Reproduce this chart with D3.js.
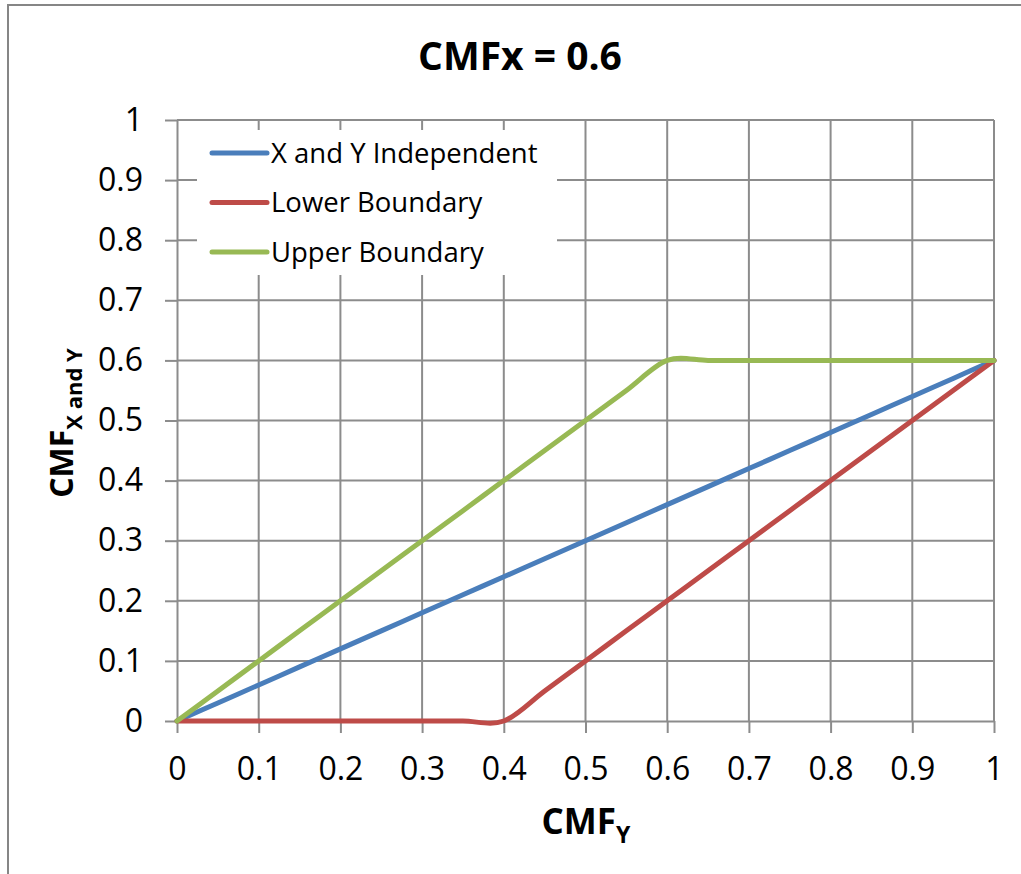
<!DOCTYPE html>
<html>
<head>
<meta charset="utf-8">
<script src="https://cdn.jsdelivr.net/npm/d3@7"></script>
<style>
	body { margin: 0; background: #fff; }
	svg text { font-family: "Open Sans", sans-serif; fill: #000; }
	.grid line { stroke: #8c8c8c; stroke-width: 2; }
	.axis path, .axis line { stroke: #8c8c8c; stroke-width: 2; }
</style>
</head>
<body>
<div id="chart"></div>
<script>
// data
const cmfY = [0, 0.05, 0.1, 0.15, 0.2, 0.25, 0.3, 0.35, 0.4, 0.45, 0.5,
	0.55, 0.6, 0.65, 0.7, 0.75, 0.8, 0.85, 0.9, 0.95, 1];
const independent = [0, 0.03, 0.06, 0.09, 0.12, 0.15, 0.18, 0.21, 0.24, 0.27, 0.3,
	0.33, 0.36, 0.39, 0.42, 0.45, 0.48, 0.51, 0.54, 0.57, 0.6];
const lower = [0, 0, 0, 0, 0, 0, 0, 0, 0, 0.05, 0.1,
	0.15, 0.2, 0.25, 0.3, 0.35, 0.4, 0.45, 0.5, 0.55, 0.6];
const upper = [0, 0.05, 0.1, 0.15, 0.2, 0.25, 0.3, 0.35, 0.4, 0.45, 0.5,
	0.55, 0.6, 0.6, 0.6, 0.6, 0.6, 0.6, 0.6, 0.6, 0.6];
const seriesNames  = ["X and Y Independent", "Lower Boundary", "Upper Boundary"];
const seriesColors = ["#4a7ebb", "#be4b48", "#98b954"];
const tickValues = [0, 0.1, 0.2, 0.3, 0.4, 0.5, 0.6, 0.7, 0.8, 0.9, 1];

const width  = 1021
	, height = 874
	, plot = { left: 177, right: 994, top: 120, bottom: 721 };

const svg = d3.select("#chart")
	.append("svg")
		.attr("width", width)
		.attr("height", height);

// chart border (cropped on right and bottom)
svg.append("rect")
	.attr("x", 8).attr("y", 5)
	.attr("width", width + 20).attr("height", height + 20)
	.attr("fill", "#fff")
	.attr("stroke", "#868686")
	.attr("stroke-width", 2);

const x = d3.scaleLinear().domain([0, 1]).range([plot.left, plot.right]);
const y = d3.scaleLinear().domain([0, 1]).range([plot.bottom, plot.top]);

// grid
const grid = svg.append("g").attr("class", "grid");
grid.selectAll(".gx")
	.data(tickValues.slice(1))
	.join("line")
		.attr("x1", d => x(d)).attr("x2", d => x(d))
		.attr("y1", plot.top).attr("y2", plot.bottom);
grid.selectAll(".gy")
	.data(tickValues.slice(1))
	.join("line")
		.attr("x1", plot.left).attr("x2", plot.right)
		.attr("y1", d => y(d)).attr("y2", d => y(d));

// axes
const xAxis = svg.append("g")
	.attr("class", "axis")
	.attr("transform", "translate(0," + plot.bottom + ")")
	.call(d3.axisBottom(x)
		.tickValues(tickValues)
		.tickSize(12)
		.tickSizeOuter(0)
		.tickPadding(24)
		.tickFormat(d3.format("")));
xAxis.selectAll("text")
	.attr("font-size", 32)
	.attr("dy", "0.71em");

const yAxis = svg.append("g")
	.attr("class", "axis")
	.attr("transform", "translate(" + plot.left + ",0)")
	.call(d3.axisLeft(y)
		.tickValues(tickValues)
		.tickSize(12)
		.tickSizeOuter(0)
		.tickPadding(22)
		.tickFormat(d3.format("")));
yAxis.selectAll("text")
	.attr("font-size", 32);
svg.selectAll(".axis text").attr("font-family", "'Open Sans', sans-serif");

// legend box (covers grid)
svg.append("rect")
	.attr("x", 197).attr("y", 130)
	.attr("width", 360).attr("height", 145)
	.attr("fill", "#fff");

// series
const line = d3.line()
	.x(d => x(d[0]))
	.y(d => y(d[1]))
	.curve(d3.curveCardinal.tension(0));

const seriesValues = [independent, lower, upper];
seriesValues.forEach((vals, i) => {
	svg.append("path")
		.datum(cmfY.map((c, j) => [c, vals[j]]))
		.attr("fill", "none")
		.attr("stroke", seriesColors[i])
		.attr("stroke-width", 5)
		.attr("stroke-linejoin", "round")
		.attr("stroke-linecap", "round")
		.attr("d", line);
});

// legend
const legend = svg.append("g").attr("transform", "translate(212,153)");
seriesNames.forEach((name, i) => {
	const row = legend.append("g").attr("transform", "translate(0," + (i * 49.5) + ")");
	row.append("line")
		.attr("x1", 0).attr("x2", 55)
		.attr("stroke", seriesColors[i])
		.attr("stroke-width", 5)
		.attr("stroke-linecap", "round");
	row.append("text")
		.attr("x", 59)
		.attr("dy", "0.36em")
		.attr("font-size", 27.5)
		.text(name);
});

// title
svg.append("text")
	.attr("x", 520).attr("y", 70)
	.attr("text-anchor", "middle")
	.attr("font-size", 39)
	.attr("font-weight", "bold")
	.text("CMFx = 0.6");

// x label
const xl = svg.append("text")
	.attr("x", 586).attr("y", 834)
	.attr("text-anchor", "middle")
	.attr("font-size", 35)
	.attr("font-weight", "bold");
xl.append("tspan").text("CMF");
xl.append("tspan").attr("font-size", 23).attr("dy", 9).text("Y");

// y label
const yl = svg.append("text")
	.attr("transform", "translate(73,423) rotate(-90)")
	.attr("text-anchor", "middle")
	.attr("font-size", 32)
	.attr("font-weight", "bold");
yl.append("tspan").text("CMF");
yl.append("tspan").attr("font-size", 22).attr("dy", 9).text("X and Y");
</script>
</body>
</html>
